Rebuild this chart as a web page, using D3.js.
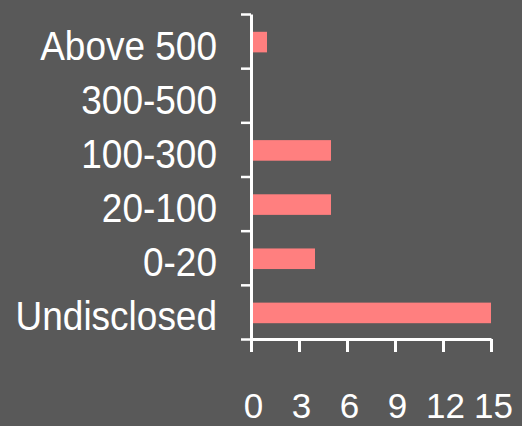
<!DOCTYPE html>
<html>
<head>
<meta charset="utf-8">
<script src="https://cdn.jsdelivr.net/npm/d3@7"></script>
<style>
  html, body { margin: 0; padding: 0; background: #595959; }
  svg { display: block; }
  text { font-family: "Liberation Sans", Arial, sans-serif; fill: #fff; }
</style>
</head>
<body>
<div id="chart"></div>
<script>
// categories top -> bottom
const categories = ["Above 500", "300-500", "100-300", "20-100", "0-20", "Undisclosed"];
const values = [1, 0, 5, 5, 4, 15];
const xTicks = [0, 3, 6, 9, 12, 15];

const width = 522, height = 426;
const plot = { left: 251, right: 491, top: 14, bottom: 339 };

const svg = d3.select("#chart").append("svg")
  .attr("width", width)
  .attr("height", height);

const x = d3.scaleLinear().domain([0, 15]).range([plot.left, plot.right]);
const y = d3.scaleBand().domain(categories).range([plot.top, plot.bottom]);
// boundary ticks between categories
const yEdge = d3.scaleLinear().domain([0, categories.length]).range([plot.top, plot.bottom]);

const barH = y.bandwidth() * 0.38;

svg.append("g").selectAll("rect")
  .data(categories)
  .join("rect")
  .attr("x", x(0))
  .attr("y", (d) => y(d) + y.bandwidth() / 2 + 1 - barH / 2)
  .attr("width", (d, i) => x(values[i]) - x(0))
  .attr("height", barH)
  .attr("fill", "#ff7f7f");

// y axis: line + ticks at band edges
const yTicks = svg.append("g")
  .attr("transform", "translate(" + plot.left + ",0)")
  .call(d3.axisLeft(yEdge).tickValues(d3.range(categories.length + 1)).tickSize(10).tickSizeOuter(0).tickFormat(""));
yTicks.select(".domain").attr("stroke", "#fff").attr("stroke-width", 3);
yTicks.selectAll(".tick line").attr("stroke", "#fff").attr("stroke-width", 2.5);

// y labels
const yLabels = svg.append("g")
  .attr("transform", "translate(" + plot.left + ",0)")
  .call(d3.axisLeft(y).tickSize(0).tickPadding(34));
yLabels.select(".domain").remove();
yLabels.selectAll("text")
  .attr("dy", null)
  .attr("y", 16.8)
  .attr("transform", "scale(1,1.1)")
  .style("font-size", "37px")
  .attr("fill", "#fff");

// x axis
const xAxis = svg.append("g")
  .attr("transform", "translate(0," + plot.bottom + ")")
  .call(d3.axisBottom(x).tickValues(xTicks).tickSize(13).tickSizeOuter(0));
xAxis.select(".domain").attr("stroke", "#fff").attr("stroke-width", 3);
xAxis.selectAll(".tick line").attr("stroke", "#fff").attr("stroke-width", 3);
xAxis.selectAll("text")
  .attr("dy", null)
  .attr("y", 79)
  .attr("x", 2)
  .style("font-size", "35px")
  .attr("fill", "#fff");
</script>
</body>
</html>
